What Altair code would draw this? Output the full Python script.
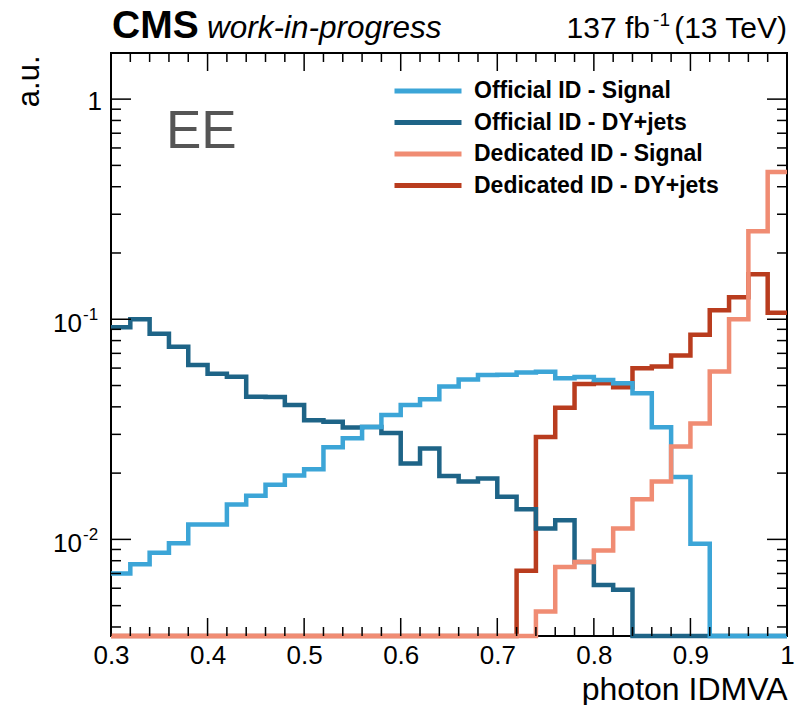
import altair as alt
import pandas as pd

# Lower edges of the photon IDMVA bins (width 0.02); the last bin closes at 1.0
BIN_LO = [0.30, 0.32, 0.34, 0.36, 0.38, 0.40, 0.42, 0.44, 0.46, 0.48,
          0.50, 0.52, 0.54, 0.56, 0.58, 0.60, 0.62, 0.64, 0.66, 0.68,
          0.70, 0.72, 0.74, 0.76, 0.78, 0.80, 0.82, 0.84, 0.86, 0.88,
          0.90, 0.92, 0.94, 0.96, 0.98]
X_HI = 1.0

# Normalised bin contents (a.u.); 0 means an empty bin
SIG_OFFICIAL = [0.0070, 0.0077, 0.0087, 0.0096, 0.0117, 0.0117, 0.0144, 0.0158, 0.0177, 0.0195,
                0.0208, 0.0262, 0.0288, 0.0324, 0.0367, 0.0408, 0.0433, 0.0495, 0.0532, 0.0558,
                0.0559, 0.0573, 0.0578, 0.0540, 0.0546, 0.0530, 0.0512, 0.0461, 0.0323, 0.0192,
                0.00955, 0, 0, 0, 0]
DY_OFFICIAL = [0.092, 0.100, 0.086, 0.075, 0.062, 0.0565, 0.0548, 0.0445, 0.0443, 0.0408,
               0.0348, 0.0342, 0.0322, 0.0324, 0.0304, 0.0221, 0.0259, 0.0194, 0.0183, 0.0189,
               0.0156, 0.0137, 0.0112, 0.0122, 0.0079, 0.0062, 0.0059, 0, 0, 0,
               0, 0, 0, 0, 0]
SIG_DEDICATED = [0, 0, 0, 0, 0, 0, 0, 0, 0, 0,
                 0, 0, 0, 0, 0, 0, 0, 0, 0, 0,
                 0, 0, 0.0047, 0.0075, 0.0079, 0.0089, 0.0112, 0.0152, 0.0183, 0.0264,
                 0.0336, 0.0579, 0.100, 0.251, 0.466]
DY_DEDICATED = [0, 0, 0, 0, 0, 0, 0, 0, 0, 0,
                0, 0, 0, 0, 0, 0, 0, 0, 0, 0,
                0, 0.0072, 0.0292, 0.0396, 0.0508, 0.0512, 0.0491, 0.0599, 0.0610, 0.0685,
                0.085, 0.110, 0.126, 0.160, 0.107]

SERIES = ["Official ID - Signal", "Official ID - DY+jets",
          "Dedicated ID - Signal", "Dedicated ID - DY+jets"]
COLORS = ["#3ca5d7", "#1e6487", "#f08c73", "#b93c1e"]
VALUES = dict(zip(SERIES, [SIG_OFFICIAL, DY_OFFICIAL, SIG_DEDICATED, DY_DEDICATED]))
DRAW_ORDER = ["Dedicated ID - DY+jets", "Official ID - DY+jets",
              "Official ID - Signal", "Dedicated ID - Signal"]

X_LABELS = [0.3, 0.4, 0.5, 0.6, 0.7, 0.8, 0.9, 1.0]
X_MINOR = [0.32, 0.34, 0.36, 0.38, 0.42, 0.44, 0.46, 0.48, 0.52, 0.54, 0.56, 0.58,
           0.62, 0.64, 0.66, 0.68, 0.72, 0.74, 0.76, 0.78, 0.82, 0.84, 0.86, 0.88,
           0.92, 0.94, 0.96, 0.98]
Y_MAJOR = [0.01, 0.1, 1.0]
Y_MINOR = [0.004, 0.005, 0.006, 0.007, 0.008, 0.009,
           0.02, 0.03, 0.04, 0.05, 0.06, 0.07, 0.08, 0.09,
           0.2, 0.3, 0.4, 0.5, 0.6, 0.7, 0.8, 0.9]
Y_MIN, Y_MAX = 0.00364, 1.62

W, H = 676, 583
FONT = "Liberation Sans"

# Step-histogram points; empty bins sit on the frame floor like in ROOT
rows = []
for name in SERIES:
    vals = VALUES[name]
    for lo, v in zip(BIN_LO, vals):
        rows.append({"series": name, "x": lo, "y": max(v, Y_MIN)})
    rows.append({"series": name, "x": X_HI, "y": max(vals[-1], Y_MIN)})
hist = pd.DataFrame(rows)

xscale = alt.Scale(domain=[0.3, 1.0], nice=False, zero=False)
yscale = alt.Scale(type="log", domain=[Y_MIN, Y_MAX], nice=False)

xaxis = alt.Axis(values=X_LABELS,
                 labelExpr="datum.value == 1 ? '1' : format(datum.value, '.1f')",
                 domain=False, ticks=False, grid=False, labelOverlap=False, labelFlush=False,
                 labelFont=FONT, labelFontSize=26, labelColor="black", labelPadding=6,
                 title="photon IDMVA", titleFont=FONT, titleFontSize=32, titleFontWeight="normal",
                 titleColor="black", titleAnchor="end", titleAlign="right",
                 titleBaseline="alphabetic", titleX=W, titleY=63)
yaxis = alt.Axis(labels=False, ticks=False, domain=False, grid=False,
                 title="a.u.", titleFont=FONT, titleFontSize=31, titleFontWeight="normal",
                 titleColor="black", titleAngle=270, titleAlign="right",
                 titleBaseline="alphabetic", titleX=-73, titleY=2)

legend = alt.Legend(title=None, orient="none", legendX=281, legendY=26,
                    symbolType="stroke", symbolSize=4489, symbolStrokeWidth=5,
                    clipHeight=24, rowPadding=7.5, padding=0, labelOffset=10,
                    labelFont=FONT, labelFontSize=23, labelFontWeight="bold",
                    labelColor="black", labelLimit=400)
color = alt.Color("series:N", scale=alt.Scale(domain=SERIES, range=COLORS), legend=legend)

X_ENC = alt.X("x:Q", scale=xscale, axis=xaxis, title="photon IDMVA")
Y_ENC = alt.Y("y:Q", scale=yscale, axis=yaxis, title="a.u.")

layers = []
for name in DRAW_ORDER:
    layers.append(
        alt.Chart(hist).transform_filter(alt.datum.series == name)
        .mark_line(interpolate="step-after", strokeWidth=4.5, strokeJoin="miter", strokeCap="butt")
        .encode(x=X_ENC, y=Y_ENC, color=color)
    )

# Inward-pointing ticks on all four sides of the frame
def xticks(vals, length):
    src = alt.Chart(pd.DataFrame({"x": vals})).mark_rule(color="black", strokeWidth=1.5)
    return [src.encode(x=X_ENC, y=alt.value(H), y2=alt.value(H - length)),
            src.encode(x=X_ENC, y=alt.value(0), y2=alt.value(length))]

def yticks(vals, length):
    src = alt.Chart(pd.DataFrame({"y": vals})).mark_rule(color="black", strokeWidth=1.5)
    return [src.encode(y=Y_ENC, x=alt.value(0), x2=alt.value(length)),
            src.encode(y=Y_ENC, x=alt.value(W), x2=alt.value(W - length))]

ticks = xticks(X_LABELS, 18) + xticks(X_MINOR, 9) + yticks(Y_MAJOR, 20) + yticks(Y_MINOR, 10)

# Y tick labels in ROOT's 10^n style
ylab_one = alt.Chart(pd.DataFrame({"y": [1.0], "t": ["1"]})).mark_text(
    font=FONT, fontSize=26, align="right", baseline="alphabetic", dy=11, color="black"
).encode(y=Y_ENC, x=alt.value(-9), text="t:N")
ylab_ten = alt.Chart(pd.DataFrame({"y": [0.1, 0.01], "t": ["10", "10"]})).mark_text(
    font=FONT, fontSize=26, align="right", baseline="alphabetic", dy=13, color="black"
).encode(y=Y_ENC, x=alt.value(-29), text="t:N")
ylab_exp = alt.Chart(pd.DataFrame({"y": [0.1, 0.01], "t": ["-1", "-2"]})).mark_text(
    font=FONT, fontSize=17, align="left", baseline="alphabetic", dy=1, color="black"
).encode(y=Y_ENC, x=alt.value(-28), text="t:N")

def label(text, x, y, size, align="left", weight="normal", style="normal", color="black"):
    return alt.Chart(pd.DataFrame({"t": [text]})).mark_text(
        font=FONT, fontSize=size, align=align, baseline="alphabetic",
        fontWeight=weight, fontStyle=style, color=color
    ).encode(x=alt.value(x), y=alt.value(y), text="t:N")

texts = [
    label("CMS", 1, -15, 39, weight="bold"),
    label("work-in-progress", 96, -15, 31.5, style="italic"),
    label("(13 TeV)", W, -15, 30, align="right"),
    label("-1", 559, -27, 19, align="right"),
    label("137 fb", 539, -15, 30, align="right"),
    label("EE", 55, 95, 53, color="#555555"),
]

chart = alt.layer(*layers, *ticks, ylab_one, ylab_ten, ylab_exp, *texts).properties(
    width=W, height=H,
    autosize=alt.AutoSizeParams(type="none"),
    padding={"left": 111, "top": 53, "right": 13, "bottom": 69},
    background="white",
).configure_view(stroke="black", strokeWidth=2)

chart.save("out.html", embed_options={"renderer": "svg", "actions": False})
